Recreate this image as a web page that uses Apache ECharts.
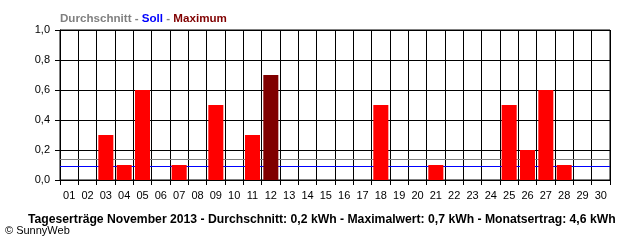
<!DOCTYPE html>
<html><head><meta charset="utf-8">
<script src="https://cdn.jsdelivr.net/npm/echarts@6/dist/echarts.min.js"></script>
<style>html,body{margin:0;padding:0;background:#fff}#c{width:640px;height:240px}</style>
</head><body><div id="c"></div>
<script>
const days = ['01','02','03','04','05','06','07','08','09','10','11','12','13','14','15','16','17','18','19','20','21','22','23','24','25','26','27','28','29','30'];
const yields = [0,0,0.3,0.1,0.6,0,0.1,0,0.5,0,0.3,0.7,0,0,0,0,0,0.5,0,0,0.1,0,0,0,0.5,0.2,0.6,0.1,0,0];
const average = 0.142;
const target = 0.093;
const maxValue = 0.7;

const chart = echarts.init(document.getElementById('c'), null, {renderer:'canvas'});
const font = 'Liberation Sans, Arial, sans-serif';
chart.setOption({
  animation:false,
  backgroundColor:'#fff',
  textStyle:{fontFamily:font},
  title:[{
    left:55, top:8,
    text:'{a|Durchschnitt - }{c|Soll}{a| - }{d|Maximum}',
    textStyle:{rich:{
      a:{color:'#808080',fontWeight:'bold',fontSize:11.6,fontFamily:font},
      c:{color:'#0000ff',fontWeight:'bold',fontSize:11.6,fontFamily:font},
      d:{color:'#800000',fontWeight:'bold',fontSize:11.6,fontFamily:font}
    }}
  },{
    left:23, top:209,
    text:'Tageserträge November 2013 - Durchschnitt: 0,2 kWh - Maximalwert: 0,7 kWh - Monatsertrag: 4,6 kWh',
    textStyle:{color:'#000',fontWeight:'bold',fontSize:12.2,fontFamily:font}
  },{
    left:0, top:220,
    text:'© SunnyWeb',
    textStyle:{color:'#000',fontWeight:'normal',fontSize:11,fontFamily:font}
  }],
  grid:{left:60,right:30,top:30,bottom:60,show:true,borderColor:'#000',borderWidth:1,backgroundColor:'#fff'},
  xAxis:{
    type:'category', data:days, boundaryGap:true,
    axisLine:{lineStyle:{color:'#000',width:1}},
    axisTick:{show:true,length:5,interval:0,lineStyle:{color:'#000'}},
    splitLine:{show:true,interval:0,lineStyle:{color:'#000',width:1}},
    axisLabel:{interval:0,color:'#000',fontSize:11,margin:10,fontFamily:font}
  },
  yAxis:{
    type:'value', min:0, max:1, interval:0.2,
    axisLine:{show:true,lineStyle:{color:'#000'}},
    axisTick:{show:true,length:5,lineStyle:{color:'#000'}},
    splitLine:{show:true,lineStyle:{color:'#000',width:1}},
    axisLabel:{color:'#000',fontSize:11,margin:10,fontFamily:font,
      formatter:v=>v.toFixed(1).replace('.',',')}
  },
  series:[{
    type:'line', data:[], z:1, silent:true,
    markLine:{
      silent:true, symbol:'none', label:{show:false}, z:1,
      data:[
        {yAxis:average,lineStyle:{color:'#808080',width:1,type:'solid'}},
        {yAxis:target,lineStyle:{color:'#0000ff',width:1,type:'solid'}}
      ]
    }
  },{
    type:'bar', z:5,
    data:yields.map(v=>({value:v,itemStyle:{color:v===maxValue?'#800000':'#ff0000'}})),
    barCategoryGap:'18%'
  }]
});
</script></body></html>
